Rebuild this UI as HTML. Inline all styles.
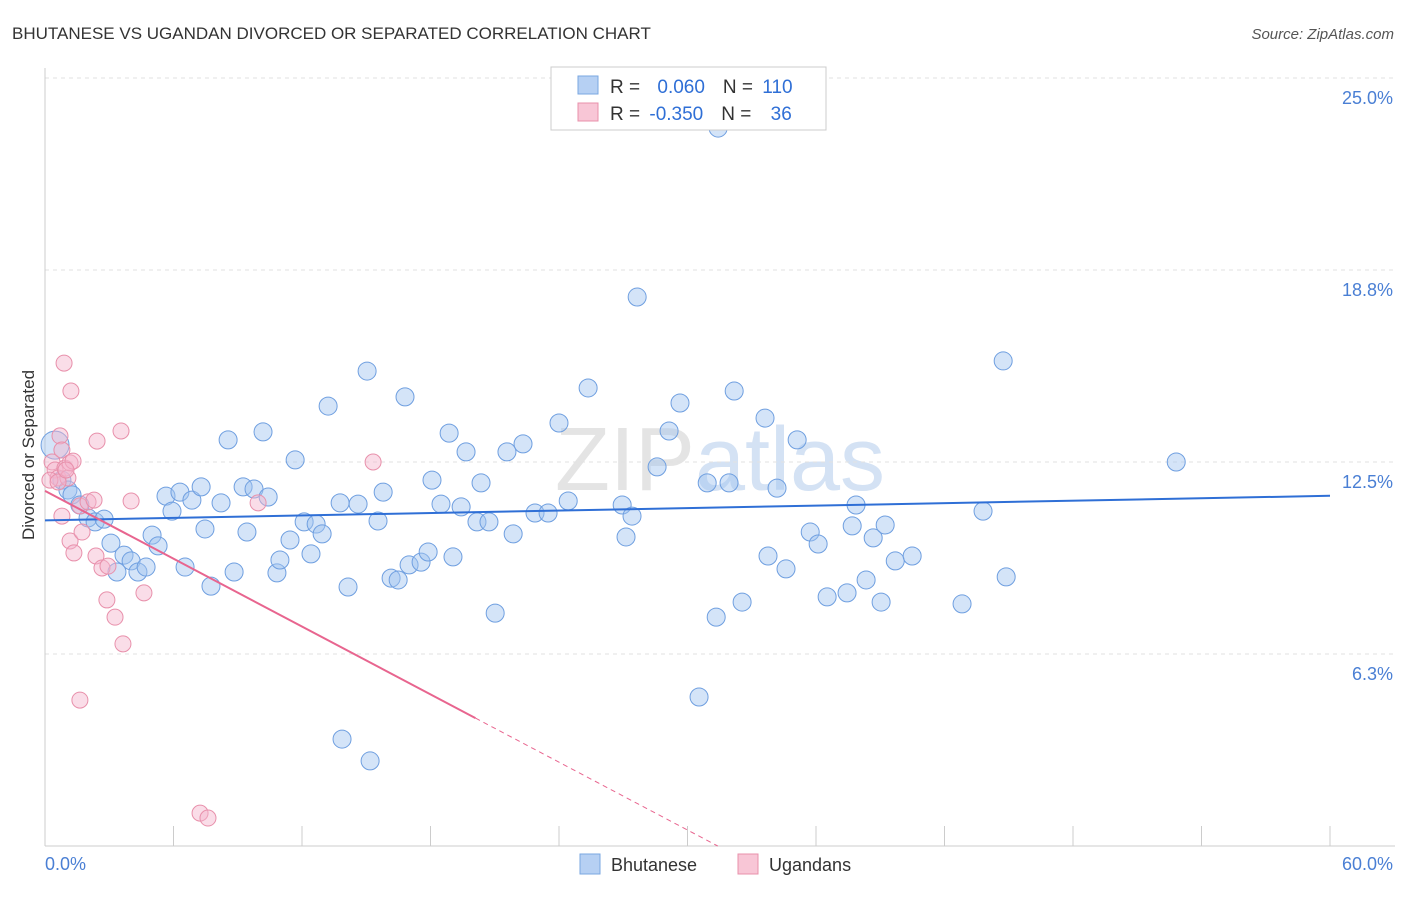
<!DOCTYPE html>
<html><head><meta charset="utf-8"><style>
body{margin:0;background:#fff;font-family:"Liberation Sans",sans-serif}
svg text{font-family:"Liberation Sans",sans-serif}
</style></head><body>
<svg id="chart" width="1406" height="892">
<text x="12" y="39" font-size="17" fill="#333">BHUTANESE VS UGANDAN DIVORCED OR SEPARATED CORRELATION CHART</text>
<text x="1394" y="39" font-size="15" fill="#555" font-style="italic" text-anchor="end">Source: ZipAtlas.com</text>
<text x="720" y="490" font-size="90" fill="#e4e4e4" text-anchor="middle" font-family="Liberation Serif">ZIP<tspan fill="#d4e2f4" font-family="Liberation Sans">atlas</tspan></text>
<g id="grid"></g><g id="axes"></g><g id="marks"></g>
<text transform="translate(34,455) rotate(-90)" font-size="17" fill="#333" text-anchor="middle">Divorced or Separated</text>
<text x="45" y="870" font-size="18" fill="#4a7fd4">0.0%</text>
<text x="1393" y="870" font-size="18" fill="#4a7fd4" text-anchor="end">60.0%</text>
<g>
<rect x="551" y="67" width="275" height="63" fill="#fff" stroke="#ccc"/>
<rect x="578" y="76" width="20" height="18" fill="#b6d0f3" stroke="#7aa7e0"/>
<rect x="578" y="103" width="20" height="18" fill="#f8c6d6" stroke="#e890ab"/>
<text x="610" y="93" font-size="19" fill="#333">R = <tspan fill="#2f6fd6" dx="12">0.060</tspan><tspan dx="18" fill="#333">N = </tspan><tspan fill="#2f6fd6" dx="4">110</tspan></text>
<text x="610" y="120" font-size="19" fill="#333">R = <tspan fill="#2f6fd6" dx="4">-0.350</tspan><tspan dx="18" fill="#333">N = </tspan><tspan fill="#2f6fd6" dx="14">36</tspan></text>
</g>
<g>
<rect x="580" y="854" width="20" height="20" fill="#b6d0f3" stroke="#7aa7e0"/>
<text x="611" y="871" font-size="18" fill="#333">Bhutanese</text>
<rect x="738" y="854" width="20" height="20" fill="#f8c6d6" stroke="#e890ab"/>
<text x="769" y="871" font-size="18" fill="#333">Ugandans</text>
</g>
</svg>
<script>
const yTicks=[6.3,12.5,18.8,25.0];
const yTickVals=[6.25,12.5,18.75,25];
const blueX=[0.47,0.79,1.07,1.26,1.63,2.01,2.34,2.76,3.08,3.36,3.69,4.02,4.34,4.72,5.00,5.28,5.65,5.93,6.30,6.54,6.86,7.29,7.47,7.75,8.22,8.55,8.83,9.25,9.43,9.76,10.18,10.42,10.83,10.97,11.44,11.68,12.10,12.42,12.66,12.94,13.22,13.78,13.87,14.15,14.62,15.04,15.18,15.55,15.79,16.16,16.49,16.81,17.00,17.56,17.89,18.07,18.49,18.87,19.05,19.43,19.66,20.17,20.36,20.73,21.02,21.57,21.86,22.32,22.88,23.49,24.00,24.43,25.36,26.95,27.13,27.41,27.65,28.58,29.14,29.65,30.54,30.92,31.34,31.43,31.94,32.18,32.55,33.62,33.76,34.18,34.60,35.12,35.73,36.10,36.52,37.45,37.69,37.87,38.34,38.67,39.04,39.23,39.70,40.49,42.82,43.80,44.74,44.88,52.82];
const blueY=[13.05,11.91,11.59,11.43,11.10,10.68,10.55,10.64,9.86,8.92,9.47,9.28,8.92,9.08,10.12,9.77,11.39,10.90,11.52,9.08,11.26,11.69,10.32,8.46,11.17,13.22,8.92,11.69,10.22,11.62,13.48,11.36,8.89,9.31,9.96,12.57,10.55,9.51,10.48,10.16,14.32,11.17,3.48,8.43,11.13,15.46,2.77,10.58,11.52,8.72,8.66,14.62,9.15,9.24,9.57,11.91,11.13,13.44,9.41,11.04,12.83,10.55,11.82,10.55,7.58,12.83,10.16,13.09,10.84,10.84,13.77,11.23,14.91,11.10,10.06,10.74,17.87,12.34,13.51,14.42,4.85,11.82,7.45,23.37,11.82,14.81,7.94,13.93,9.44,11.65,9.02,13.22,10.22,9.83,8.11,8.24,10.42,11.10,8.66,10.03,7.94,10.45,9.28,9.44,7.88,10.90,15.79,8.76,12.50];
const pinkX=[0.33,0.47,0.61,0.70,0.79,0.93,1.07,1.17,0.89,1.21,1.31,0.79,1.17,1.35,1.63,1.73,2.01,2.29,2.43,2.38,2.66,2.94,2.89,3.27,3.55,3.64,4.02,4.62,1.63,7.24,7.61,9.95,15.32,0.23,0.61,0.98];
const pinkY=[12.50,12.24,11.98,13.35,12.89,12.30,11.98,12.47,15.72,14.81,12.53,10.74,9.93,9.54,11.07,10.22,11.20,11.26,13.18,9.44,9.05,9.11,8.01,7.45,13.51,6.58,11.23,8.24,4.75,1.07,0.91,11.17,12.50,11.91,11.85,12.24];
const blueTrend=[10.6,11.4];
const pinkTrend=[11.56,-0.368];
const pinkSolidEnd=20.1;

const X0=45,X1=1330,XMAX=60,Y0=846,PXU=30.72;
const sx=v=>X0+(X1-X0)*v/XMAX, sy=v=>Y0-v*PXU;
const NS="http://www.w3.org/2000/svg";
function mk(tag,attrs,parent){const e=document.createElementNS(NS,tag);for(const k in attrs)e.setAttribute(k,attrs[k]);document.getElementById(parent).appendChild(e);return e;}
yTickVals.forEach((v,i)=>{
 const l=mk('line',{x1:X0,x2:1395,y1:sy(v),y2:sy(v),stroke:'#e2e2e2','stroke-dasharray':'4,4'},'grid');
 
 
 const t=mk('text',{x:1393,y:sy(v)+26,'font-size':18,fill:'#4a7fd4','text-anchor':'end'},'grid');
 t.textContent=yTicks[i].toFixed(1)+'%';
 
 
});
const ax=mk('line',{x1:X0,x2:X0,y1:68,y2:Y0,stroke:'#ccc'},'axes');


const bx=mk('line',{x1:X0,x2:1395,y1:Y0,y2:Y0,stroke:'#ccc'},'axes');


for(let v=0;v<=60;v+=6){
 const t=mk('line',{x1:sx(v),x2:sx(v),y1:826,y2:Y0,stroke:'#ccc'},'axes');
 
 
}
blueX.forEach((x,i)=>{
 const c=mk('circle',{cx:sx(x),cy:sy(blueY[i]),r:i===0?14:9,fill:'rgba(160,195,240,0.45)',stroke:'#6f9fe0','stroke-width':1},'marks');
 
 
});
pinkX.forEach((x,i)=>{
 const c=mk('circle',{cx:sx(x),cy:sy(pinkY[i]),r:8,fill:'rgba(245,180,205,0.45)',stroke:'#e890ab','stroke-width':1},'marks');
 
 
});
const bl=mk('line',{x1:sx(0),y1:sy(blueTrend[0]),x2:sx(60),y2:sy(blueTrend[1]),stroke:'#2f6fd6','stroke-width':2},'marks');


const pz=-pinkTrend[0]/pinkTrend[1];
const pl=mk('line',{x1:sx(0),y1:sy(pinkTrend[0]),x2:sx(pinkSolidEnd),y2:sy(pinkTrend[0]+pinkTrend[1]*pinkSolidEnd),stroke:'#e8658f','stroke-width':2},'marks');


const pd=mk('line',{x1:sx(pinkSolidEnd),y1:sy(pinkTrend[0]+pinkTrend[1]*pinkSolidEnd),x2:sx(pz),y2:sy(0),stroke:'#e8658f','stroke-width':1,'stroke-dasharray':'5,4'},'marks');


</script>
</body></html>
